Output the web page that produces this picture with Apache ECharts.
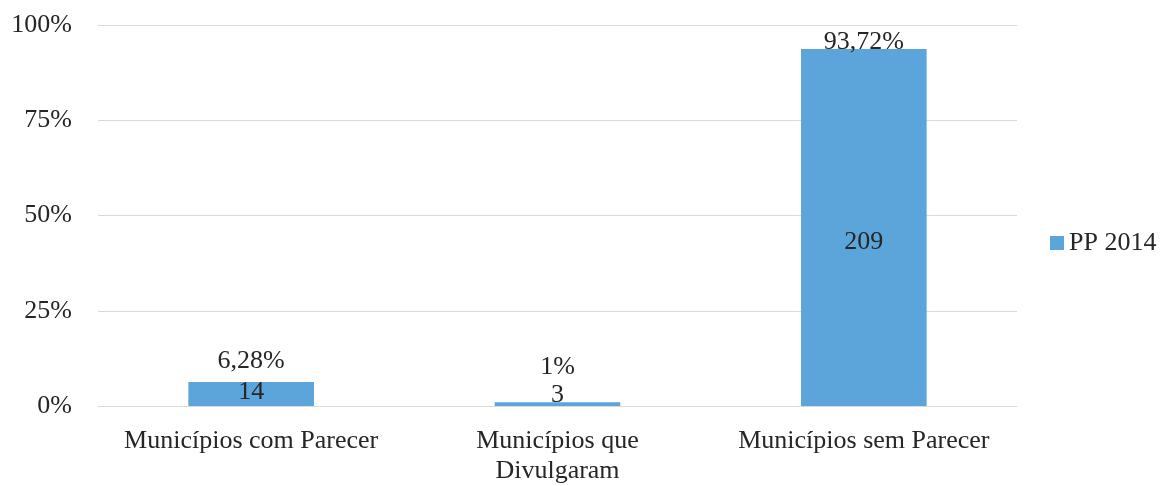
<!DOCTYPE html>
<html>
<head>
<meta charset="utf-8">
<script src="https://cdn.jsdelivr.net/npm/echarts@6/dist/echarts.min.js"></script>
<style>
html,body{margin:0;padding:0;background:#fff;}
#chart{width:1162px;height:486px;}
</style>
</head>
<body>
<div id="chart"></div>
<script>
const categories = ['Municípios com Parecer', 'Municípios que\nDivulgaram', 'Municípios sem Parecer'];
const percentValues = [6.28, 1, 93.72];
const countValues = [14, 3, 209];
const seriesName = 'PP 2014';
const yMin = 0, yMax = 100, yInterval = 25;

// label placement (relative to each bar's rectangle), kept apart from data
const countLabelPos = [['50%', 10], ['50%', -7], ['50%', '54%']];
const pctLabelPos = [['50%', -21], ['50%', -35], ['50%', -7]];

const textColor = '#262626';
const fontFamily = '"Liberation Serif", "Times New Roman", serif';
const fontSize = 26;

function fmtPct(v) {
  return String(v).replace('.', ',') + '%';
}

const countData = percentValues.map((v, i) => ({
  value: v,
  label: { position: countLabelPos[i] }
}));
const pctData = percentValues.map((v, i) => ({
  value: v,
  label: { position: pctLabelPos[i] }
}));

const chart = echarts.init(document.getElementById('chart'), null, { renderer: 'canvas' });
chart.setOption({
  animation: false,
  backgroundColor: '#ffffff',
  textStyle: { fontFamily: fontFamily },
  grid: { left: 98, right: 145, top: 25, bottom: 77, containLabel: false },
  legend: {
    data: [seriesName],
    orient: 'vertical',
    left: 1045,
    top: 'middle',
    itemWidth: 14,
    itemHeight: 14,
    icon: 'rect',
    textStyle: { fontFamily: fontFamily, fontSize: fontSize, color: textColor },
    selectedMode: false
  },
  xAxis: {
    type: 'category',
    data: categories,
    axisLine: { show: false },
    axisTick: { show: false },
    axisLabel: {
      fontFamily: fontFamily, fontSize: fontSize, color: textColor,
      margin: 20, lineHeight: 30, interval: 0
    }
  },
  yAxis: {
    type: 'value',
    min: yMin, max: yMax, interval: yInterval,
    axisLine: { show: false },
    axisTick: { show: false },
    splitLine: { lineStyle: { color: '#d9d9d9', width: 1 } },
    axisLabel: {
      fontFamily: fontFamily, fontSize: fontSize, color: textColor, margin: 26,
      formatter: v => v + '%'
    }
  },
  series: [
    {
      name: seriesName,
      type: 'bar',
      barWidth: '41%',
      itemStyle: { color: '#5ba5da' },
      data: countData,
      label: {
        show: true,
        align: 'center',
        verticalAlign: 'middle',
        fontFamily: fontFamily, fontSize: fontSize, color: textColor,
        formatter: p => String(countValues[p.dataIndex])
      },
      z: 2
    },
    {
      name: 'pct',
      type: 'bar',
      barWidth: '41%',
      barGap: '-100%',
      silent: true,
      itemStyle: { color: 'rgba(0,0,0,0)' },
      data: pctData,
      label: {
        show: true,
        align: 'center',
        verticalAlign: 'middle',
        fontFamily: fontFamily, fontSize: fontSize, color: textColor,
        formatter: p => fmtPct(percentValues[p.dataIndex])
      },
      z: 3
    }
  ]
});
</script>
</body>
</html>
